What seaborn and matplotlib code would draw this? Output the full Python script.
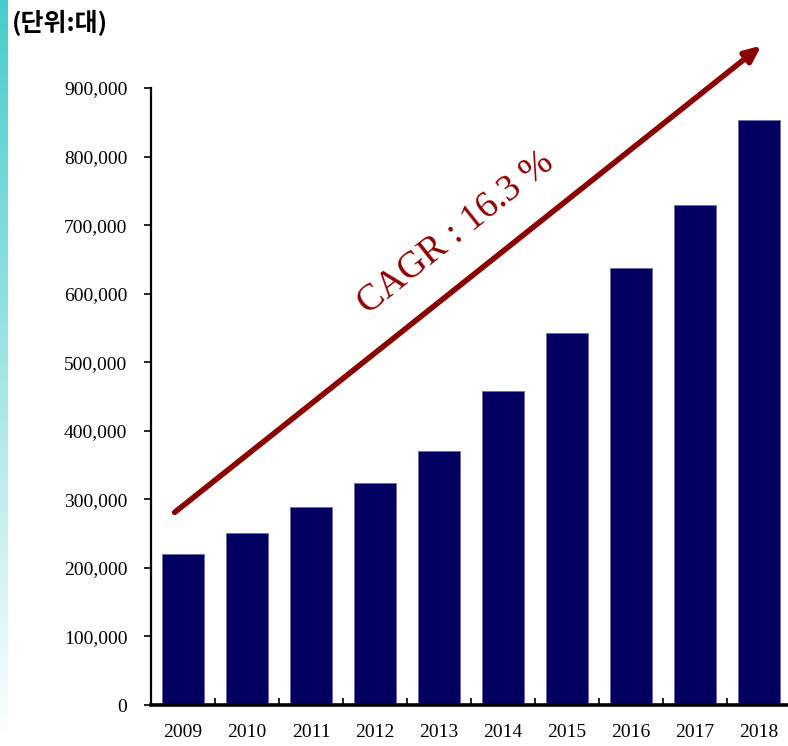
import numpy as np
import pandas as pd
import seaborn as sns
import matplotlib
matplotlib.use('Agg')
from matplotlib import pyplot as plt
from matplotlib.ticker import FuncFormatter, FixedLocator

years = ['2009', '2010', '2011', '2012', '2013', '2014', '2015', '2016', '2017', '2018']
units = [220000, 251000, 289000, 324000, 370000, 458000, 542000, 637000, 730000, 853000]
unit_label = '(단위:대)'
cagr_label = 'CAGR : 16.3 %'

df = pd.DataFrame({'Year': years, 'Units': units})

sns.set_theme(style='white')
plt.rcParams['font.family'] = ['Liberation Serif', 'DejaVu Serif']

fig = plt.figure(figsize=(7.88, 7.46), dpi=100)
ax = fig.add_axes([151 / 788, 41 / 746, 640 / 788, 617 / 746])

sns.barplot(data=df, x='Year', y='Units', ax=ax, color='#000060', saturation=1,
            width=0.67, edgecolor='#6a6ab0', linewidth=0.6)

ax.set_xlim(-0.5, 9.5)
ax.set_ylim(0, 900000)
ax.set_yticks(np.arange(0, 900001, 100000))
ax.yaxis.set_major_formatter(FuncFormatter(lambda v, p: f'{int(v):,}'))
ax.set_xlabel('')
ax.set_ylabel('')

for s in ['top', 'right']:
    ax.spines[s].set_visible(False)
ax.spines['left'].set_linewidth(1.6)
ax.spines['bottom'].set_linewidth(2.6)
ax.spines['left'].set_color('black')
ax.spines['bottom'].set_color('black')

ax.tick_params(axis='y', which='major', direction='out', length=5, width=1.2,
               left=True, labelsize=14, pad=12, colors='black')
ax.tick_params(axis='x', which='major', length=0, labelsize=14, pad=14, colors='black')
ax.xaxis.set_minor_locator(FixedLocator(np.arange(0.5, 9, 1)))
ax.tick_params(axis='x', which='minor', direction='in', length=5, width=1.2,
               bottom=True, colors='black')

# growth arrow
ax.annotate('', xy=(9.04, 962000), xytext=(-0.13, 281000), xycoords='data',
            annotation_clip=False,
            arrowprops=dict(arrowstyle='-|>,head_length=0.8,head_width=0.35',
                            color='#8b0000', lw=4, shrinkA=0, shrinkB=0))
ax.text(4.27, 688000, cagr_label, rotation=38.5, rotation_mode='anchor',
        ha='center', va='center', fontsize=27, color='#8b0000')

fig.text(12 / 788, 1 - 23 / 746, unit_label, fontsize=18, fontweight='bold',
         family=['Noto Sans CJK KR', 'DejaVu Sans'], ha='left', va='center',
         color='black')

# teal strip on the left edge
strip = fig.add_axes([0, 0, 8 / 788, 1])
grad = np.linspace(0, 1, 256).reshape(-1, 1)
cmap = matplotlib.colors.LinearSegmentedColormap.from_list('strip', ['#46cccc', '#ffffff'])
strip.imshow(grad, aspect='auto', cmap=cmap, extent=[0, 1, 0, 1], origin='upper')
strip.set_axis_off()

fig.savefig('out.png', dpi=100)
